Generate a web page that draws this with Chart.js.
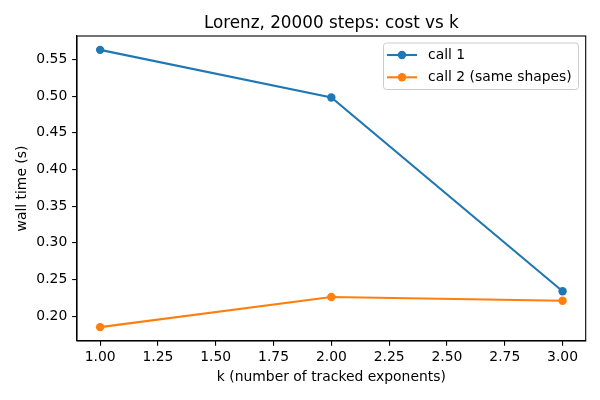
<!DOCTYPE html>
<html>
<head>
<meta charset="utf-8">
<script src="https://cdn.jsdelivr.net/npm/chart.js@4"></script>
<style>
html,body{margin:0;padding:0;background:#fff;}
#wrap{width:600px;height:400px;}
</style>
</head>
<body>
<div id="wrap"><canvas id="c" width="600" height="400"></canvas></div>
<script>
const kValues = [1, 2, 3];
const call1 = [0.563, 0.498, 0.234];
const call2 = [0.185, 0.226, 0.221];
const seriesNames = ['call 1', 'call 2 (same shapes)'];
const xTicks = [1.00, 1.25, 1.50, 1.75, 2.00, 2.25, 2.50, 2.75, 3.00];
const yTicks = [0.20, 0.25, 0.30, 0.35, 0.40, 0.45, 0.50, 0.55];
const titleText = 'Lorenz, 20000 steps: cost vs k';
const xLabel = 'k (number of tracked exponents)';
const yLabel = 'wall time (s)';
const colors = ['#1f77b4', '#ff7f0e'];

const FONT = "'DejaVu Sans', sans-serif";

const allY = call1.concat(call2);
const yMinD = Math.min(...allY), yMaxD = Math.max(...allY);
const yPad = (yMaxD - yMinD) * 0.05;
const xMinD = Math.min(...kValues), xMaxD = Math.max(...kValues);
const xPad = (xMaxD - xMinD) * 0.05;

const framePlugin = {
  id: 'frame',
  afterDraw(chart) {
    const {ctx, chartArea: a} = chart;
    ctx.save();
    ctx.strokeStyle = '#000';
    ctx.lineWidth = 1.1;
    ctx.strokeRect(a.left, a.top, a.right - a.left, a.bottom - a.top);
    // title
    ctx.fillStyle = '#000';
    ctx.font = "16.8px " + FONT;
    ctx.textAlign = 'center';
    ctx.textBaseline = 'alphabetic';
    ctx.fillText(titleText, (a.left + a.right) / 2, a.top - 8.5);
    // legend
    const bx = 383.5, by = 43, bw = 195, bh = 46.5, r = 3;
    ctx.beginPath();
    ctx.moveTo(bx + r, by);
    ctx.lineTo(bx + bw - r, by);
    ctx.arcTo(bx + bw, by, bx + bw, by + r, r);
    ctx.lineTo(bx + bw, by + bh - r);
    ctx.arcTo(bx + bw, by + bh, bx + bw - r, by + bh, r);
    ctx.lineTo(bx + r, by + bh);
    ctx.arcTo(bx, by + bh, bx, by + bh - r, r);
    ctx.lineTo(bx, by + r);
    ctx.arcTo(bx, by, bx + r, by, r);
    ctx.closePath();
    ctx.fillStyle = 'rgba(255,255,255,0.8)';
    ctx.fill();
    ctx.strokeStyle = '#cccccc';
    ctx.lineWidth = 1;
    ctx.stroke();
    const rows = [55, 77.3];
    seriesNames.forEach((name, i) => {
      const y = rows[i];
      ctx.strokeStyle = colors[i];
      ctx.lineWidth = 2.1;
      ctx.beginPath();
      ctx.moveTo(387, y);
      ctx.lineTo(417, y);
      ctx.stroke();
      ctx.fillStyle = colors[i];
      ctx.beginPath();
      ctx.arc(402, y, 4.2, 0, Math.PI * 2);
      ctx.fill();
      ctx.fillStyle = '#000';
      ctx.font = "13.9px " + FONT;
      ctx.textAlign = 'left';
      ctx.textBaseline = 'middle';
      ctx.fillText(name, 428, y);
    });
    ctx.restore();
  }
};

const datasets = [call1, call2].map((vals, i) => ({
  label: seriesNames[i],
  data: kValues.map((k, j) => ({x: k, y: vals[j]})),
  borderColor: colors[i],
  backgroundColor: colors[i],
  borderWidth: 2.1,
  pointRadius: 4.2,
  pointHoverRadius: 4.2,
  pointBorderWidth: 0,
  tension: 0,
  clip: false
}));

new Chart(document.getElementById('c'), {
  type: 'line',
  data: {datasets},
  options: {
    responsive: false,
    animation: false,
    devicePixelRatio: 1,
    layout: {padding: {top: 36, right: 14.3, left: 0, bottom: 0}},
    plugins: {legend: {display: false}, title: {display: false}, tooltip: {enabled: false}},
    scales: {
      x: {
        type: 'linear',
        min: xMinD - xPad,
        max: xMaxD + xPad,
        afterBuildTicks: s => { s.ticks = xTicks.map(v => ({value: v})); },
        afterFit: s => { s.height = 59; },
        grid: {display: true, drawOnChartArea: false, drawTicks: true, tickLength: 4.86, color: '#000', lineWidth: 1.1},
        border: {display: true, color: '#000', width: 1.1},
        ticks: {color: '#000', font: {family: FONT, size: 13.9}, padding: 3, maxRotation: 0, autoSkip: false,
          callback: v => Number(v).toFixed(2)},
        title: {display: true, text: xLabel, color: '#000', font: {family: FONT, size: 13.9}, padding: {top: 0, bottom: 14}}
      },
      y: {
        type: 'linear',
        min: yMinD - yPad,
        max: yMaxD + yPad,
        afterBuildTicks: s => { s.ticks = yTicks.map(v => ({value: v})); },
        afterFit: s => { s.width = 77; },
        grid: {display: true, drawOnChartArea: false, drawTicks: true, tickLength: 4.86, color: '#000', lineWidth: 1.1},
        border: {display: true, color: '#000', width: 1.1},
        ticks: {color: '#000', font: {family: FONT, size: 13.9}, padding: 4.86, autoSkip: false,
          callback: v => Number(v).toFixed(2)},
        title: {display: true, text: yLabel, color: '#000', font: {family: FONT, size: 13.9}, padding: {top: 14, bottom: 0}}
      }
    }
  },
  plugins: [framePlugin]
});
</script>
</body>
</html>
